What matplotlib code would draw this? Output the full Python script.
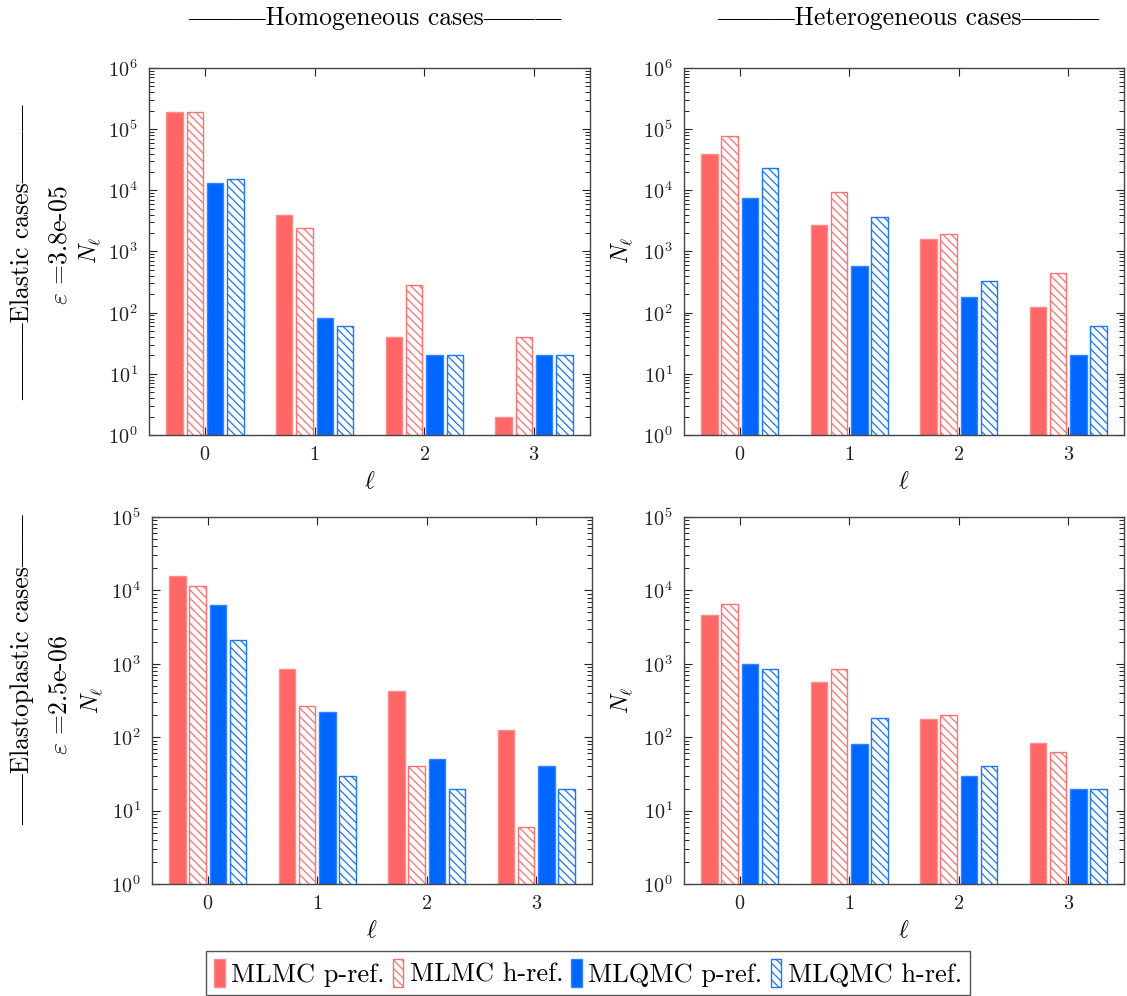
import numpy as np
import matplotlib
matplotlib.use('Agg')
import matplotlib.pyplot as plt
from matplotlib.ticker import LogLocator, NullFormatter

# %%
levels = [0, 1, 2, 3]
series = ['MLMC p-ref.', 'MLMC h-ref.', 'MLQMC p-ref.', 'MLQMC h-ref.']

# elastic, homogeneous
el_hom_mlmc_p = [1.9e5, 3.9e3, 40, 2]
el_hom_mlmc_h = [1.9e5, 2.4e3, 286, 40]
el_hom_mlqmc_p = [1.3e4, 81, 20, 20]
el_hom_mlqmc_h = [1.56e4, 60, 20, 20]

# elastic, heterogeneous
el_het_mlmc_p = [4.0e4, 2.7e3, 1.6e3, 122]
el_het_mlmc_h = [7.6e4, 9.3e3, 1.9e3, 440]
el_het_mlqmc_p = [7.6e3, 575, 182, 20]
el_het_mlqmc_h = [2.3e4, 3.6e3, 330, 60]

# elastoplastic, homogeneous
ep_hom_mlmc_p = [1.55e4, 860, 425, 127]
ep_hom_mlmc_h = [1.15e4, 270, 40, 6]
ep_hom_mlqmc_p = [6.4e3, 222, 51, 40]
ep_hom_mlqmc_h = [2.1e3, 30, 20, 20]

# elastoplastic, heterogeneous
ep_het_mlmc_p = [4.6e3, 560, 177, 83]
ep_het_mlmc_h = [6.5e3, 850, 200, 63]
ep_het_mlqmc_p = [1.0e3, 80, 30, 20]
ep_het_mlqmc_h = [840, 180, 40, 20]

# %%
plt.rcParams['font.family'] = ['cmr10', 'Liberation Serif', 'DejaVu Serif']
plt.rcParams['mathtext.fontset'] = 'cm'
plt.rcParams['axes.formatter.use_mathtext'] = True
plt.rcParams['xtick.direction'] = 'in'
plt.rcParams['ytick.direction'] = 'in'
plt.rcParams['hatch.linewidth'] = 0.9

red = '#FF6666'
blue = '#0066FF'
styles = [
    dict(color=red, edgecolor='#FF8A8A', hatch=None),
    dict(color='white', edgecolor='#FF7070', hatch='\\\\\\\\'),
    dict(color=blue, edgecolor='#3385FF', hatch=None),
    dict(color='white', edgecolor='#1A75FF', hatch='\\\\\\\\'),
]

W, H = 1127, 996
fig = plt.figure(figsize=(W / 100, H / 100), dpi=100)


def px_axes(l, t, r, b):
    return fig.add_axes([l / W, 1 - b / H, (r - l) / W, (b - t) / H])


panels = [
    (px_axes(149, 68, 590, 435), [el_hom_mlmc_p, el_hom_mlmc_h, el_hom_mlqmc_p, el_hom_mlqmc_h], 6),
    (px_axes(684, 68, 1124, 435), [el_het_mlmc_p, el_het_mlmc_h, el_het_mlqmc_p, el_het_mlqmc_h], 6),
    (px_axes(152, 517, 592, 884), [ep_hom_mlmc_p, ep_hom_mlmc_h, ep_hom_mlqmc_p, ep_hom_mlqmc_h], 5),
    (px_axes(684, 517, 1124, 884), [ep_het_mlmc_p, ep_het_mlmc_h, ep_het_mlqmc_p, ep_het_mlqmc_h], 5),
]

x = np.array(levels, dtype=float)
offsets = [-0.278, -0.093, 0.093, 0.278]
width = 0.15

for ax, data, top in panels:
    ax.set_yscale('log')
    for k, (vals, st) in enumerate(zip(data, styles)):
        ax.bar(x + offsets[k], vals, width, bottom=1e-3, color=st['color'],
               edgecolor=st['edgecolor'], hatch=st['hatch'], linewidth=1.0,
               label=series[k])
    ax.set_ylim(1, 10 ** top)
    ax.set_xlim(-0.51, 3.51)
    ax.set_xticks(levels)
    ax.yaxis.set_major_locator(LogLocator(base=10, numticks=10))
    ax.yaxis.set_minor_locator(LogLocator(base=10, subs=np.arange(2, 10), numticks=20))
    ax.yaxis.set_minor_formatter(NullFormatter())
    ax.tick_params(which='both', top=True, right=True, labelsize=14.5, colors='#222222')
    ax.tick_params(which='major', length=6, width=0.8, pad=8)
    ax.tick_params(which='minor', length=3.5, width=0.7)
    ax.tick_params(axis='x', which='minor', top=False, bottom=False)
    for sp in ax.spines.values():
        sp.set_color('#444444')
        sp.set_linewidth(1.0)
    ax.set_xlabel(r'$\ell$', fontsize=17, labelpad=5)

# titles and row labels
fs = 18.5
fig.text(375 / W, 1 - 18 / H, '———Homogeneous cases———', ha='center', va='center', fontsize=fs)
fig.text(908 / W, 1 - 18 / H, '———Heterogeneous cases———', ha='center', va='center', fontsize=fs)

fig.text(22 / W, 1 - 252 / H, '———Elastic cases———', rotation=90, ha='center', va='center', fontsize=fs)
fig.text(60 / W, 1 - 245 / H, r'$\varepsilon$ =3.8e-05', rotation=90, ha='center', va='center', fontsize=fs)
fig.text(90 / W, 1 - 250 / H, r'$N_\ell$', rotation=90, ha='center', va='center', fontsize=17)
fig.text(622 / W, 1 - 250 / H, r'$N_\ell$', rotation=90, ha='center', va='center', fontsize=17)

fig.text(22 / W, 1 - 670 / H, '——Elastoplastic cases——', rotation=90, ha='center', va='center', fontsize=fs)
fig.text(60 / W, 1 - 695 / H, r'$\varepsilon$ =2.5e-06', rotation=90, ha='center', va='center', fontsize=fs)
fig.text(92 / W, 1 - 700 / H, r'$N_\ell$', rotation=90, ha='center', va='center', fontsize=17)
fig.text(622 / W, 1 - 700 / H, r'$N_\ell$', rotation=90, ha='center', va='center', fontsize=17)

handles, labels = panels[0][0].get_legend_handles_labels()
leg = fig.legend(handles, labels, loc='center', bbox_to_anchor=(588 / W, 1 - 973 / H),
                 ncol=4, fontsize=19, fancybox=False, framealpha=1, edgecolor='#555555',
                 handlelength=0.4, handleheight=1.3, handletextpad=0.25,
                 columnspacing=0.3, borderpad=0.3, borderaxespad=0)
leg.get_frame().set_linewidth(1.0)

plt.savefig('out.png', dpi=100)
plt.close()
